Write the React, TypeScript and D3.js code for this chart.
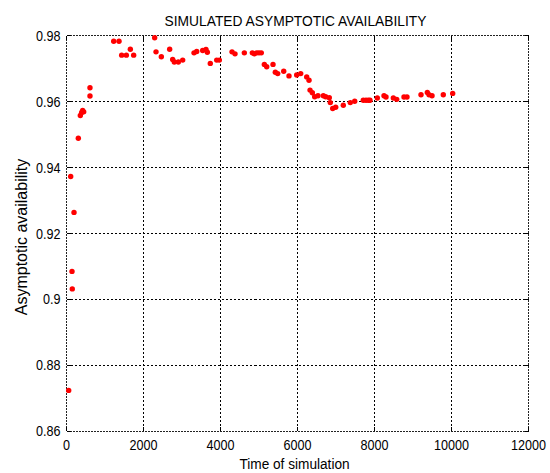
import React from "react";
import * as d3 from "d3";

// Simulation time and the estimated asymptotic availability at that time
const simTime = [
  57, 109, 143, 150, 195, 307, 359, 394, 420, 447, 610, 610,
  1226, 1364, 1433, 1554, 1658, 1745,
  2290, 2325, 2463, 2680, 2758, 2800, 2905, 3018,
  3312, 3382, 3537, 3623, 3658, 3735, 3901, 3970,
  4299, 4377, 4619, 4827, 4879, 4940, 5000, 5060,
  5139, 5200, 5364, 5424, 5486, 5642, 5779, 5979,
  6083, 6239, 6299, 6325, 6385, 6446, 6532, 6671, 6732, 6826, 6852, 6914, 6992,
  7190, 7371, 7486, 7709, 7779, 7839, 7883,
  8073, 8247, 8299, 8489, 8577, 8766, 8844,
  9208, 9372, 9416, 9494, 9787, 10031,
];
const availability = [
  0.8724, 0.9373, 0.9085, 0.9032, 0.9264, 0.9489, 0.9558, 0.9567, 0.9573, 0.9569, 0.9642, 0.9617,
  0.9783, 0.9783, 0.9741, 0.9741, 0.9759, 0.9741,
  0.9794, 0.9751, 0.9736, 0.9759, 0.9728, 0.972, 0.972, 0.9726,
  0.9748, 0.9752, 0.9755, 0.9758, 0.975, 0.9716, 0.9726, 0.9726,
  0.9751, 0.9745, 0.9748, 0.9748, 0.9745, 0.9748, 0.9748, 0.9748,
  0.9713, 0.9706, 0.9713, 0.9689, 0.9685, 0.9692, 0.9678, 0.9681,
  0.9685, 0.9675, 0.9665, 0.9635, 0.9627, 0.9615, 0.9618, 0.9618, 0.9615, 0.9612, 0.9597, 0.9579, 0.9583,
  0.9589, 0.9597, 0.9601, 0.9604, 0.9604, 0.9604, 0.9604,
  0.9611, 0.9618, 0.9614, 0.9611, 0.9607, 0.9614, 0.9614,
  0.9621, 0.9628, 0.9621, 0.9618, 0.9621, 0.9625,
];

const xTicks = [0, 2000, 4000, 6000, 8000, 10000, 12000];
const yTicks = [0.86, 0.88, 0.9, 0.92, 0.94, 0.96, 0.98];

const W = 550;
const H = 473;
const left = 66.5;
const right = 528.5;
const top = 35.7;
const bottom = 431.3;
const font = "'Liberation Sans', Arial, sans-serif";

// Horizontally condensed text label
function Label(props: {
  x: number;
  y: number;
  size: number;
  sx: number;
  anchor: "start" | "middle" | "end";
  children: React.ReactNode;
}) {
  return (
    <text
      transform={`translate(${props.x},${props.y}) scale(${props.sx},1)`}
      fontSize={props.size}
      textAnchor={props.anchor}
      fill="#000"
    >
      {props.children}
    </text>
  );
}

export default function App() {
  const x = d3.scaleLinear().domain([0, 12000]).range([left, right]);
  const y = d3.scaleLinear().domain([0.86, 0.98]).range([bottom, top]);
  const fmtY = (v: number) => String(+v.toFixed(2));

  return (
    <svg
      width={W}
      height={H}
      style={{ position: "absolute", left: 0, top: 0, background: "#fff" }}
      fontFamily={font}
    >
      <rect x={0} y={0} width={W} height={H} fill="#fff" />
      {/* grid */}
      <g stroke="#000" strokeWidth={1} strokeDasharray="2,2" shapeRendering="crispEdges">
        {xTicks.slice(1, -1).map((t) => (
          <line key={"gx" + t} x1={x(t)} x2={x(t)} y1={top} y2={bottom} />
        ))}
        {yTicks.slice(1, -1).map((t) => (
          <line key={"gy" + t} x1={left} x2={right} y1={y(t)} y2={y(t)} />
        ))}
      </g>
      {/* axes box */}
      <rect
        x={left}
        y={top}
        width={right - left}
        height={bottom - top}
        fill="none"
        stroke="#222"
        strokeWidth={1}
        strokeDasharray="2,1"
        shapeRendering="crispEdges"
      />
      {/* inward ticks */}
      <g stroke="#000" strokeWidth={1} shapeRendering="crispEdges">
        {xTicks.map((t) => (
          <g key={"tx" + t}>
            <line x1={x(t)} x2={x(t)} y1={bottom} y2={bottom - 4} />
            <line x1={x(t)} x2={x(t)} y1={top} y2={top + 4} />
          </g>
        ))}
        {yTicks.map((t) => (
          <g key={"ty" + t}>
            <line x1={left} x2={left + 4} y1={y(t)} y2={y(t)} />
            <line x1={right} x2={right - 4} y1={y(t)} y2={y(t)} />
          </g>
        ))}
      </g>
      {/* data points */}
      <g fill="#ff0000">
        {simTime.map((t, i) => (
          <circle key={i} cx={x(t)} cy={y(availability[i])} r={2.7} />
        ))}
      </g>
      {/* tick labels */}
      {xTicks.map((t) => (
        <Label key={"lx" + t} x={x(t)} y={450} size={14} sx={0.9} anchor="middle">
          {t}
        </Label>
      ))}
      {yTicks.map((t) => (
        <Label key={"ly" + t} x={left - 6} y={y(t) + 5} size={14} sx={0.9} anchor="end">
          {fmtY(t)}
        </Label>
      ))}
      <Label x={295.5} y={25.5} size={15} sx={0.92} anchor="middle">
        SIMULATED ASYMPTOTIC AVAILABILITY
      </Label>
      <Label x={294.5} y={468.5} size={15} sx={0.91} anchor="middle">
        Time of simulation
      </Label>
      <text
        transform={`translate(27,237) rotate(-90)`}
        fontSize={16}
        textAnchor="middle"
        fill="#000"
      >
        Asymptotic availability
      </text>
    </svg>
  );
}
